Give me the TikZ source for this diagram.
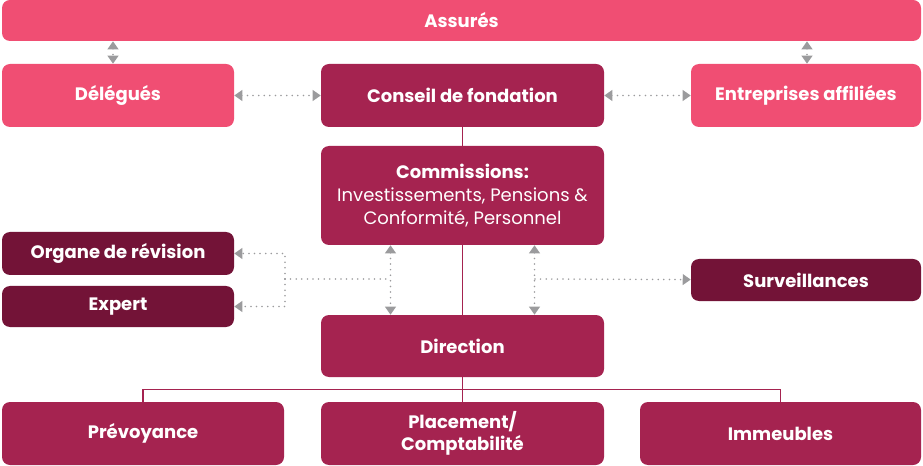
\documentclass[tikz,border=0pt]{standalone}
\usepackage{fontspec}
\setmainfont{Poppins}
\usetikzlibrary{arrows.meta,positioning,calc}
\definecolor{rose}{HTML}{F04E73}
\definecolor{bordeaux}{HTML}{A52350}
\definecolor{prune}{HTML}{731337}
\definecolor{gris}{HTML}{9B9B9D}
\tikzset{
    box/.style 2 args={rounded corners=6pt, inner sep=0pt, align=center,
        text=white, font=\fontsize{13.5}{17}\selectfont\bfseries,
        minimum width=#1*0.75pt, minimum height=#2*0.75pt},
    lien/.style={bordeaux, line width=1.2pt},
    pointe/.style={gris, line width=1.3pt, line cap=round,
        dash pattern=on 0pt off 4.2pt,
        >={Triangle[width=8pt,length=6pt]}}
}
\begin{document}
\begin{tikzpicture}[x=0.75pt,y=-0.75pt]
\useasboundingbox (0,0) rectangle (923,466);
% organes
\node[box={919}{41}, fill=rose] (assures) at (461.5,20.5) {Assurés};
\node[box={232}{63}, fill=rose] (delegues) at (118,95.5) {Délégués};
\node[box={283}{63}, fill=bordeaux] (conseil) at (462.5,95.5) {Conseil de fondation};
\node[box={230}{63}, fill=rose] (entreprises) at (806,95.5) {Entreprises affiliées};
\node[box={283}{99}, fill=bordeaux] (commissions) at (462.5,195.5)
    {Commissions:\\{\mdseries Investissements, Pensions \&}\\{\mdseries Conformité, Personnel}};
\node[box={232}{43}, fill=prune] (organe) at (118,253.5) {Organe de révision};
\node[box={232}{41}, fill=prune] (expert) at (118,306.5) {Expert};
\node[box={230}{42}, fill=prune] (surveil) at (806,280) {Surveillances};
\node[box={283}{62}, fill=bordeaux] (direction) at (462.5,346) {Direction};
\node[box={282}{63}, fill=bordeaux] (prevoyance) at (143,433.5) {Prévoyance};
\node[box={283}{63}, fill=bordeaux] (placement) at (462.5,433.5) {Placement/\\Comptabilité};
\node[box={281}{63}, fill=bordeaux] (immeubles) at (780.5,433.5) {Immeubles};
% liens hierarchiques
\draw[lien] (conseil) -- (commissions);
\draw[lien] (commissions) -- (direction);
\coordinate (bus) at ($(direction.south)!0.5!(placement.north)$);
\draw[lien] (direction) -- (placement);
\draw[lien] (prevoyance.north) |- (bus) -| (immeubles.north);
% echanges
\draw[pointe,<->] (assures.south -| 113,0) -- (delegues.north -| 113,0);
\draw[pointe,<->] (assures.south -| 807,0) -- (entreprises.north -| 807,0);
\draw[pointe,<->] (delegues) -- (conseil);
\draw[pointe,<->] (conseil) -- (entreprises);
\draw[pointe,<->] ([xshift=-54pt]commissions.south) -- ([xshift=-54pt]direction.north);
\draw[pointe,<->] ([xshift=54pt]commissions.south) -- ([xshift=54pt]direction.north);
\coordinate (noeudG) at (285,279);
\coordinate (noeudD) at (535,279);
\draw[pointe] (noeudG) -- (390,279);
\draw[pointe,->] (noeudG) |- (organe);
\draw[pointe,->] (noeudG) |- (expert);
\draw[pointe,->] (noeudD) -- (surveil);
\end{tikzpicture}
\end{document}
